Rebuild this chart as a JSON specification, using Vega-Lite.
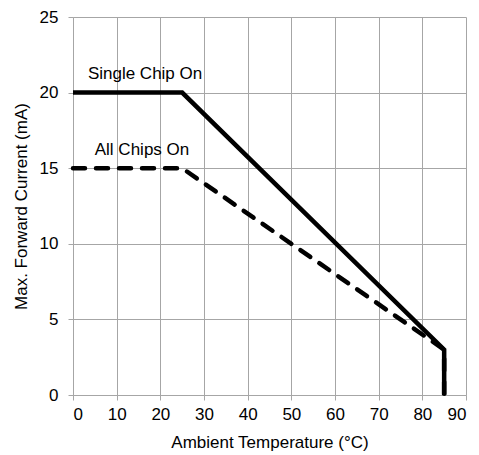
{
  "$schema": "https://vega.github.io/schema/vega-lite/v6.json",
  "width": 393,
  "height": 378,
  "autosize": {"type": "none"},
  "padding": {"left": 73, "top": 17, "right": 13, "bottom": 60},
  "background": "white",
  "config": {
    "view": {"stroke": null},
    "font": "Liberation Sans",
    "axis": {
      "gridColor": "#a6a6a6",
      "gridWidth": 1,
      "domainColor": "#a6a6a6",
      "tickColor": "#a6a6a6",
      "tickSize": 5,
      "labelFont": "Liberation Sans",
      "labelFontSize": 17,
      "labelColor": "#000000",
      "titleFont": "Liberation Sans",
      "titleFontSize": 17,
      "titleFontWeight": "normal",
      "titleColor": "#000000"
    }
  },
  "datasets": {
    "single": [
      {"series": "Single Chip On", "i": 0, "temp": 0, "current": 20},
      {"series": "Single Chip On", "i": 1, "temp": 25, "current": 20},
      {"series": "Single Chip On", "i": 2, "temp": 85, "current": 3},
      {"series": "Single Chip On", "i": 3, "temp": 85, "current": 0}
    ],
    "all": [
      {"series": "All Chips On", "i": 0, "temp": 0, "current": 15},
      {"series": "All Chips On", "i": 1, "temp": 25, "current": 15},
      {"series": "All Chips On", "i": 2, "temp": 85, "current": 3},
      {"series": "All Chips On", "i": 3, "temp": 85, "current": 0}
    ],
    "labels": [
      {"label": "Single Chip On", "temp": 16.5, "current": 21.2},
      {"label": "All Chips On", "temp": 15.8, "current": 16.2}
    ]
  },
  "layer": [
    {
      "data": {"name": "all"},
      "mark": {"type": "line", "color": "#000000", "strokeWidth": 4.5, "strokeCap": "round", "strokeJoin": "round", "strokeDash": [12, 11]},
      "encoding": {
        "x": {
          "field": "temp", "type": "quantitative",
          "scale": {"domain": [0, 90], "nice": false},
          "axis": {"values": [0, 10, 20, 30, 40, 50, 60, 70, 80, 90], "title": "Ambient Temperature (°C)", "titlePadding": 12, "labelPadding": 6}
        },
        "y": {
          "field": "current", "type": "quantitative",
          "scale": {"domain": [0, 25], "nice": false},
          "axis": {"values": [0, 5, 10, 15, 20, 25], "title": "Max. Forward Current (mA)", "titlePadding": 9, "labelPadding": 10}
        },
        "order": {"field": "i", "type": "quantitative"}
      }
    },
    {
      "data": {"name": "single"},
      "mark": {"type": "line", "color": "#000000", "strokeWidth": 4.5, "strokeCap": "butt", "strokeJoin": "miter"},
      "encoding": {
        "x": {"field": "temp", "type": "quantitative"},
        "y": {"field": "current", "type": "quantitative"},
        "order": {"field": "i", "type": "quantitative"}
      }
    },
    {
      "data": {"name": "labels"},
      "mark": {"type": "text", "fontSize": 17, "font": "Liberation Sans", "color": "#000000"},
      "encoding": {
        "x": {"field": "temp", "type": "quantitative"},
        "y": {"field": "current", "type": "quantitative"},
        "text": {"field": "label"}
      }
    }
  ]
}
